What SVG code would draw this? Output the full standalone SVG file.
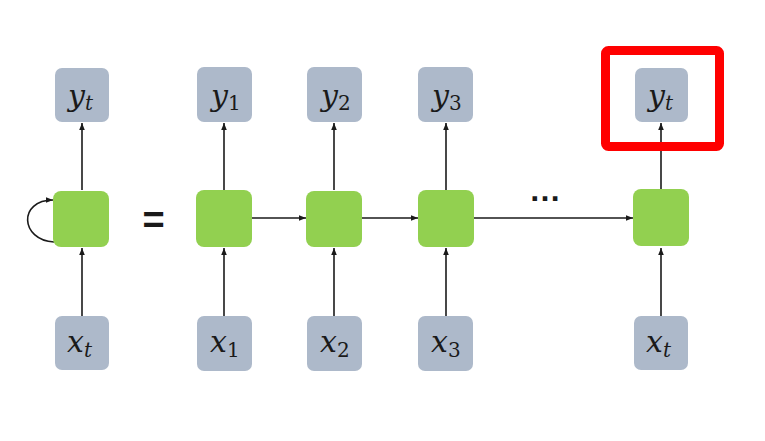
<svg xmlns="http://www.w3.org/2000/svg" width="765" height="441" viewBox="0 0 765 441">
<defs>
<marker id="ah" markerWidth="8" markerHeight="8" refX="7" refY="4" orient="auto" markerUnits="userSpaceOnUse">
<path d="M0,1.2 L7,4 L0,6.8 Z" fill="#1a1a1a"/>
</marker>
</defs>
<style>
.io{fill:#adb9ca;}
.cell{fill:#92d050;}
.ln{stroke:#1a1a1a;stroke-width:1.6;fill:none;marker-end:url(#ah);}
.v{font-family:"DejaVu Serif","Liberation Serif",serif;font-style:italic;font-size:30px;fill:#1a1a1a;}
.s{font-family:"DejaVu Serif","Liberation Serif",serif;font-style:normal;font-size:20px;fill:#1a1a1a;}
.si{font-style:italic;}
</style>
<rect width="765" height="441" fill="#ffffff"/>
<g id="connectors">
<line class="ln" x1="82" y1="190" x2="82" y2="123"/>
<line class="ln" x1="82" y1="316" x2="82" y2="248"/>
<path class="ln" d="M54,242 C20,240 18,200 53,200"/>
<line class="ln" x1="224" y1="190" x2="224" y2="123"/>
<line class="ln" x1="224" y1="316" x2="224" y2="248"/>
<line class="ln" x1="334" y1="190" x2="334" y2="123"/>
<line class="ln" x1="334" y1="316" x2="334" y2="248"/>
<line class="ln" x1="446" y1="190" x2="446" y2="123"/>
<line class="ln" x1="446" y1="316" x2="446" y2="248"/>
<line class="ln" x1="661" y1="190" x2="661" y2="123"/>
<line class="ln" x1="661" y1="316" x2="661" y2="248"/>
<line class="ln" x1="252" y1="218" x2="306" y2="218"/>
<line class="ln" x1="362" y1="218" x2="418" y2="218"/>
<line class="ln" x1="474" y1="218" x2="633" y2="218"/>
</g>
<g id="cell0"><rect class="cell" x="53" y="191" width="56" height="56" rx="8"/></g>
<g id="cell1"><rect class="cell" x="196" y="190" width="56" height="57" rx="8"/></g>
<g id="cell2"><rect class="cell" x="306" y="191" width="56" height="56" rx="8"/></g>
<g id="cell3"><rect class="cell" x="418" y="190" width="56" height="57" rx="8"/></g>
<g id="cell4"><rect class="cell" x="633" y="189" width="56" height="57" rx="8"/></g>

<g id="y0"><rect class="io" x="55" y="68" width="54" height="54" rx="7"/><text x="68" y="106" class="v">y<tspan class="s si" dy="4">t</tspan></text></g>
<g id="y1"><rect class="io" x="197" y="67" width="55" height="55" rx="7"/><text x="211" y="106" class="v">y<tspan class="s" dy="4">1</tspan></text></g>
<g id="y2"><rect class="io" x="307" y="67" width="55" height="55" rx="7"/><text x="321" y="106" class="v">y<tspan class="s" dy="4">2</tspan></text></g>
<g id="y3"><rect class="io" x="418" y="67" width="55" height="55" rx="7"/><text x="432" y="106" class="v">y<tspan class="s" dy="4">3</tspan></text></g>
<g id="y4"><rect class="io" x="635" y="68" width="53" height="54" rx="7"/><text x="648" y="106" class="v">y<tspan class="s si" dy="4">t</tspan></text></g>

<g id="x0"><rect class="io" x="55" y="316" width="54" height="54" rx="7"/><text x="67" y="352" class="v">x<tspan class="s si" dy="5">t</tspan></text></g>
<g id="x1"><rect class="io" x="197" y="316" width="55" height="55" rx="7"/><text x="210" y="352" class="v">x<tspan class="s" dy="5">1</tspan></text></g>
<g id="x2"><rect class="io" x="307" y="316" width="55" height="55" rx="7"/><text x="320" y="352" class="v">x<tspan class="s" dy="5">2</tspan></text></g>
<g id="x3"><rect class="io" x="418" y="316" width="55" height="55" rx="7"/><text x="431" y="352" class="v">x<tspan class="s" dy="5">3</tspan></text></g>
<g id="x4"><rect class="io" x="634" y="316" width="54" height="54" rx="7"/><text x="646" y="352" class="v">x<tspan class="s si" dy="5">t</tspan></text></g>

<text x="153.5" y="233" text-anchor="middle" font-family="Liberation Sans, Arial, sans-serif" font-weight="bold" font-size="38" fill="#1a1a1a">=</text>
<text x="545" y="201" text-anchor="middle" font-family="Liberation Sans, Arial, sans-serif" font-weight="bold" font-size="32" fill="#1a1a1a">…</text>
<g id="highlight"><rect x="605.5" y="50.5" width="114" height="96" rx="3" fill="none" stroke="#ff0000" stroke-width="9"/></g>
</svg>
